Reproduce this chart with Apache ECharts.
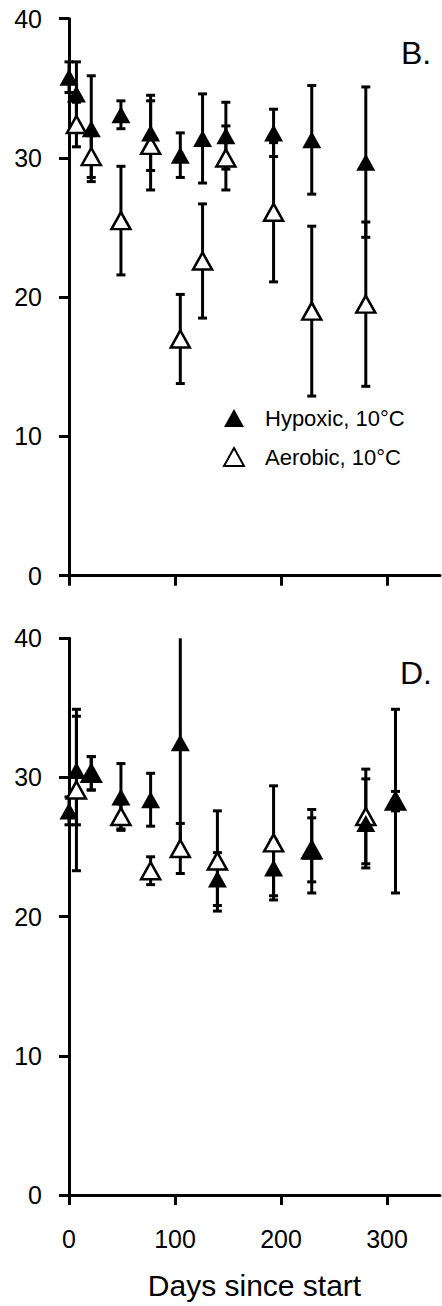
<!DOCTYPE html>
<html>
<head>
<meta charset="utf-8">
<script src="https://cdn.jsdelivr.net/npm/echarts@6/dist/echarts.min.js"></script>
<style>
  html, body { margin: 0; padding: 0; background: #fff; }
  #chart { width: 442px; height: 1306px; }
</style>
</head>
<body>
<div id="chart"></div>
<script>
  // panel B
  var hypDaysB = [0, 7, 21, 49, 77, 105, 126, 148, 193, 229, 280];
  var hypMeanB = [35.8, 34.6, 32.1, 33.1, 31.8, 30.2, 31.4, 31.6, 31.8, 31.3, 29.7];
  var hypSdB = [1.1, 2.3, 3.8, 1.0, 2.7, 1.6, 3.2, 2.4, 1.7, 3.9, 5.4];
  var aerDaysB = [7, 21, 49, 77, 105, 126, 148, 193, 229, 280];
  var aerMeanB = [32.4, 30.1, 25.5, 30.9, 17.0, 22.6, 30.0, 26.1, 19.0, 19.5];
  var aerSdB = [1.6, 1.5, 3.9, 3.2, 3.2, 4.1, 2.3, 5.0, 6.1, 5.9];

  // panel D
  var hypDaysD = [0, 7, 21, 49, 77, 105, 140, 193, 229, 280, 308];
  var hypMeanD = [27.6, 30.5, 30.3, 28.6, 28.4, 32.5, 22.7, 23.5, 24.7, 26.7, 28.3];
  var hypSdD = [1.0, 3.9, 1.2, 2.4, 1.9, 7.8, 1.9, 2.0, 3.0, 3.2, 6.6];
  var aerDaysD = [7, 21, 49, 77, 105, 140, 193, 229, 280, 308];
  var aerMeanD = [29.1, 30.3, 27.2, 23.3, 24.9, 24.0, 25.3, 24.8, 27.2, 28.3];
  var aerSdD = [5.8, 1.2, 0.9, 1.0, 1.8, 3.6, 4.1, 2.3, 3.4, 0.7];

  var xTicks = [0, 100, 200, 300];
  var panelLabels = ['B.', 'D.'];
  var HYP = 'Hypoxic, 10°C';
  var AER = 'Aerobic, 10°C';

  var FONT = '"Liberation Sans", Arial, sans-serif';
  var Y_MAX = 40;

  function points(days, mean) {
    return days.map(function (d, i) { return [d, mean[i]]; });
  }
  function bars(days, mean, sd) {
    return days.map(function (d, i) { return [d, mean[i] - sd[i], mean[i] + sd[i]]; });
  }

  // vertical bar with caps, top cap dropped when it runs past the axis max
  function renderErrorBar(params, api) {
    var x = api.value(0);
    var lo = api.value(1);
    var hi = api.value(2);
    var p1 = api.coord([x, lo]);
    var p2 = api.coord([x, Math.min(hi, Y_MAX)]);
    var cap = 4.5;
    var st = { stroke: '#000', lineWidth: 3 };
    var kids = [
      { type: 'line', shape: { x1: p1[0], y1: p1[1], x2: p2[0], y2: p2[1] }, style: st },
      { type: 'line', shape: { x1: p1[0] - cap, y1: p1[1], x2: p1[0] + cap, y2: p1[1] }, style: st }
    ];
    if (hi <= Y_MAX) {
      kids.push({ type: 'line', shape: { x1: p2[0] - cap, y1: p2[1], x2: p2[0] + cap, y2: p2[1] }, style: st });
    }
    return { type: 'group', children: kids };
  }

  function makeX(idx, showLabels) {
    return {
      type: 'value', gridIndex: idx, min: 0, max: 350,
      splitLine: { show: false },
      axisLine: { show: true, onZero: false, lineStyle: { color: '#000', width: 3 } },
      axisTick: { show: true, customValues: xTicks, length: 10, lineStyle: { color: '#000', width: 3 } },
      axisLabel: { show: showLabels, customValues: xTicks, margin: 31, fontSize: 25, color: '#000', fontFamily: FONT },
      name: showLabels ? 'Days since start' : '',
      nameLocation: 'middle', nameGap: 75,
      nameTextStyle: { fontSize: 30, color: '#000', fontFamily: FONT }
    };
  }
  function makeY(idx) {
    return {
      type: 'value', gridIndex: idx, min: 0, max: 40, interval: 10,
      splitLine: { show: false },
      axisLine: { show: true, lineStyle: { color: '#000', width: 3 } },
      axisTick: { show: true, length: 10, lineStyle: { color: '#000', width: 3 } },
      axisLabel: { margin: 27, fontSize: 25, color: '#000', fontFamily: FONT }
    };
  }

  var filledStyle = { color: '#000', opacity: 1 };
  var hollowStyle = { color: '#fff', borderColor: '#000', borderWidth: 2.5, opacity: 1 };

  // aerobic under hypoxic: bars, markers, bars, markers
  function panelSeries(idx, hd, hm, hs, ad, am, as) {
    return [
      { type: 'custom', xAxisIndex: idx, yAxisIndex: idx, renderItem: renderErrorBar,
        encode: { x: 0, y: [1, 2] }, data: bars(ad, am, as), silent: true },
      { type: 'scatter', name: AER, xAxisIndex: idx, yAxisIndex: idx, symbol: 'triangle',
        symbolSize: [19, 17], itemStyle: hollowStyle, data: points(ad, am) },
      { type: 'custom', xAxisIndex: idx, yAxisIndex: idx, renderItem: renderErrorBar,
        encode: { x: 0, y: [1, 2] }, data: bars(hd, hm, hs), silent: true },
      { type: 'scatter', name: HYP, xAxisIndex: idx, yAxisIndex: idx, symbol: 'triangle',
        symbolSize: [19, 17], itemStyle: filledStyle, data: points(hd, hm) }
    ];
  }

  var chart = echarts.init(document.getElementById('chart'), null, { renderer: 'svg' });
  chart.setOption({
    animation: false,
    backgroundColor: '#fff',
    grid: [
      { left: 69, top: 18.7, width: 371, height: 557, outerBoundsMode: 'none' },
      { left: 69, top: 638.3, width: 371, height: 556.7, outerBoundsMode: 'none' }
    ],
    xAxis: [makeX(0, false), makeX(1, true)],
    yAxis: [makeY(0), makeY(1)],
    legend: {
      data: [HYP, AER], orient: 'vertical', left: 218, top: 402,
      itemWidth: 20, itemHeight: 18, itemGap: 17,
      textStyle: { fontSize: 22, color: '#000', fontFamily: FONT, padding: [0, 0, 0, 16] }
    },
    graphic: [
      { type: 'text', left: 401, top: 37, style: { text: panelLabels[0], font: '32px ' + FONT, fill: '#000' } },
      { type: 'text', left: 400, top: 656.5, style: { text: panelLabels[1], font: '32px ' + FONT, fill: '#000' } }
    ],
    series: panelSeries(0, hypDaysB, hypMeanB, hypSdB, aerDaysB, aerMeanB, aerSdB)
      .concat(panelSeries(1, hypDaysD, hypMeanD, hypSdD, aerDaysD, aerMeanD, aerSdD))
  });
</script>
</body>
</html>
